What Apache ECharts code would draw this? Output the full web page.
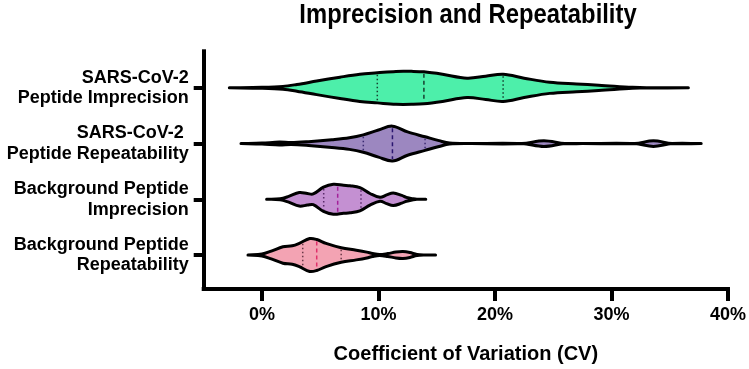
<!DOCTYPE html>
<html><head><meta charset="utf-8">
<script src="https://cdn.jsdelivr.net/npm/echarts@6/dist/echarts.min.js"></script>
<style>html,body{margin:0;padding:0;background:#fff}#c{width:749px;height:369px}</style>
</head><body><div id="c"></div>
<script>
const chartTitle = 'Imprecision and Repeatability';
const categories = ['SARS-CoV-2\nPeptide Imprecision', 'SARS-CoV-2 \nPeptide Repeatability', 'Background Peptide\nImprecision', 'Background Peptide\nRepeatability'];
const xTickValues = [0, 10, 20, 30, 40];

// Violin profiles: CV (%) sample positions and relative density (arbitrary units)
const cvSarsImprecision = [-2.8, 0, 1.8, 3, 4.7, 6.7, 8.4, 9.9, 11.5, 13.0, 13.9, 15.5, 17.6, 19.2, 20.7, 22.5, 24.7, 27, 28.9, 31.8, 33, 36.6];
const densSarsImprecision = [0, 0.5, 1.5, 3.5, 7, 11, 14, 15.5, 17, 17, 16.5, 14, 10, 12, 14, 10, 5.7, 4, 2.8, 0.5, 0, 0];

const cvSarsRepeatability = [-1.8, 0, 1.5, 2.5, 4, 6, 7.5, 8.7, 10, 11.2, 12.5, 14, 15.2, 16.1, 18, 22.3, 24.2, 26, 27.5, 32, 33.6, 35.2, 37.7];
const densSarsRepeatability = [0, 0.5, 1.5, 1, 2, 4, 6, 9, 14, 18, 12, 7, 3, 0.5, 0, 0, 3, 0, 0, 0, 3, 0, 0];

const cvBgImprecision = [0.4, 1.56, 2.3, 3.2, 3.9, 4.4, 5.28, 6.13, 7.0, 7.56, 8.41, 9.27, 10.13, 10.7, 11.27, 12.0, 12.4, 12.98, 13.3, 14.06];
const densBgImprecision = [0, 0.5, 3, 7, 6, 5.5, 12.5, 15.5, 14.5, 14, 12, 6, 2, 4.5, 6.5, 4, 2, 0.5, 0, 0];

const cvBgRepeatability = [-1.2, 0.0, 0.8, 1.8, 2.6, 3.2, 4.1, 4.7, 5.5, 6.8, 8.1, 9.0, 9.5, 10.1, 10.8, 11.5, 12.1, 12.7, 13.3, 14.0, 14.9];
const densBgRepeatability = [0, 1, 4, 8.5, 9.5, 12, 17, 16, 12, 7.5, 5, 3, 1.5, 0.5, 1.5, 3, 3.5, 2.5, 0.5, 0, 0];

// Quartiles [Q1, median, Q3] in CV %
const quartSarsImprecision = [9.9, 13.9, 20.7];
const quartSarsRepeatability = [8.7, 11.2, 14.0];
const quartBgImprecision = [5.3, 6.5, 8.5];
const quartBgRepeatability = [3.5, 4.7, 6.8];

const cvList = [cvSarsImprecision, cvSarsRepeatability, cvBgImprecision, cvBgRepeatability];
const densList = [densSarsImprecision, densSarsRepeatability, densBgImprecision, densBgRepeatability];
const quartList = [quartSarsImprecision, quartSarsRepeatability, quartBgImprecision, quartBgRepeatability];

const fills = ['#4DEFAA', '#9C87C0', '#C490D2', '#F3A3B3'];
const medianColors = ['#17402f', '#2a1670', '#a4209a', '#e0306a'];
const quartColors = ['#17402f', '#3a2a70', '#5a2a6a', '#6a3848'];
const WIDTH_SCALE = 1 / 57.5; // category units per density unit

function interp(xs, ys, x) {
  for (let k = 0; k < xs.length - 1; k++) {
    if (x >= xs[k] && x <= xs[k + 1]) {
      const t = (x - xs[k]) / (xs[k + 1] - xs[k]);
      return ys[k] + t * (ys[k + 1] - ys[k]);
    }
  }
  return 0;
}

const chart = echarts.init(document.getElementById('c'), null, {renderer: 'canvas'});
const font = 'Liberation Sans, Arial, Helvetica, sans-serif';
chart.setOption({
  animation: false,
  backgroundColor: '#fff',
  graphic: [{
    type: 'text',
    x: 468, y: 15,
    scaleX: 0.85,
    style: {text: chartTitle, fontFamily: font, fontWeight: 'bold', fontSize: 28, fill: '#000', align: 'center', verticalAlign: 'middle'}
  }],
  grid: {left: 203.7, right: 19.5, top: 51.3, bottom: 72.5},
  xAxis: {
    type: 'value', min: -5, max: 40,
    axisLine: {show: true, onZero: false, lineStyle: {color: '#000', width: 4, cap: 'square'}},
    axisTick: {show: true, customValues: xTickValues, length: 12, lineStyle: {color: '#000', width: 4}},
    axisLabel: {customValues: xTickValues, formatter: v => v + '%', fontFamily: font, fontWeight: 'bold', fontSize: 18, color: '#000', margin: 17},
    splitLine: {show: false},
    name: 'Coefficient of Variation (CV)', nameLocation: 'middle', nameGap: 55,
    nameTextStyle: {fontFamily: font, fontWeight: 'bold', fontSize: 20, color: '#000'}
  },
  yAxis: {
    type: 'value', inverse: true, min: -0.656, max: 3.61,
    axisLine: {show: true, onZero: false, lineStyle: {color: '#000', width: 4, cap: 'square'}},
    axisTick: {show: true, customValues: [0, 1, 2, 3], length: 10, lineStyle: {color: '#000', width: 4}},
    axisLabel: {customValues: [0, 1, 2, 3], formatter: v => categories[v], fontFamily: font, fontWeight: 'bold', fontSize: 18, lineHeight: 20.5, color: '#000', margin: 15, align: 'right'},
    splitLine: {show: false}
  },
  series: [{
    type: 'custom',
    coordinateSystem: 'cartesian2d',
    data: categories.map((c, i) => [0, i]),
    renderItem: function (params, api) {
      const i = params.dataIndex;
      const xs = cvList[i], ds = densList[i];
      const top = [], bot = [];
      for (let k = 0; k < xs.length; k++) {
        top.push(api.coord([xs[k], i - ds[k] * WIDTH_SCALE]));
        bot.push(api.coord([xs[k], i + ds[k] * WIDTH_SCALE]));
      }
      const pts = top.concat(bot.slice().reverse());
      const children = [{
        type: 'polygon',
        shape: {points: pts, smooth: 0.35},
        style: {fill: fills[i], stroke: '#000', lineWidth: 3, lineJoin: 'round'}
      }];
      quartList[i].forEach((q, j) => {
        const d = interp(xs, ds, q);
        const p1 = api.coord([q, i - d * WIDTH_SCALE]);
        const p2 = api.coord([q, i + d * WIDTH_SCALE]);
        const isMed = j === 1;
        children.push({
          type: 'line',
          shape: {x1: p1[0], y1: p1[1] + 2, x2: p2[0], y2: p2[1] - 2},
          style: {stroke: isMed ? medianColors[i] : quartColors[i], lineWidth: 1.5, lineDash: isMed ? [4, 3] : [1.5, 2.5]}
        });
      });
      return {type: 'group', children: children};
    }
  }]
});
</script>
</body></html>
